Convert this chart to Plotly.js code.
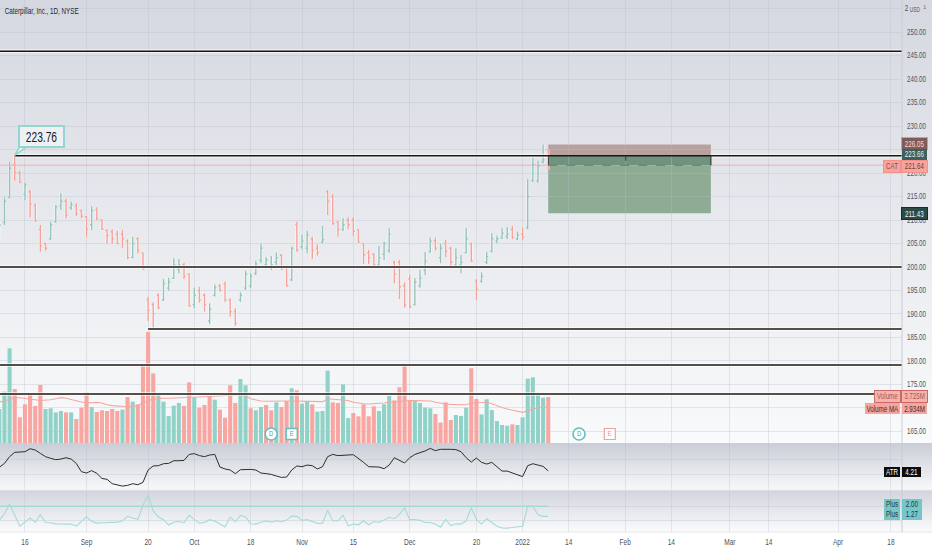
<!DOCTYPE html>
<html><head><meta charset="utf-8">
<script src="https://cdn.plot.ly/plotly-3.0.1.min.js"></script>
<style>
html,body{margin:0;padding:0;width:932px;height:550px;overflow:hidden;
background:linear-gradient(to bottom,#d5d8e0 0px,#f9fafb 443px,#cacdd7 443px,#f8f8fa 489px,#ececf0 490px,#d2d5dd 491px,#fafafb 531px,#ffffff 532px,#ffffff 550px);}
#chart{width:932px;height:550px;}
</style></head><body><div id="chart"></div>
<script>
const barIndex=[-5,-4,-3,-2,-1,0,1,2,3,4,5,6,7,8,9,10,11,12,13,14,15,16,17,18,19,20,21,22,23,24,25,26,27,28,29,30,31,32,33,34,35,36,37,38,39,40,41,42,43,44,45,46,47,48,49,50,51,52,53,54,55,56,57,58,59,60,61,62,63,64,65,66,67,68,69,70,71,72,73,74,75,76,77,78,79,80,81,82,83,84,85,86,87,88,89,90,91,92,93,94,95,96,97,98,99,100,101,102];
const opens=[206.5,209.5,214.8,221.8,220,215.5,216,213,208,205,206,209.6,213,214,212.6,213,212,210.7,209,212.2,210,207.8,207.5,207,207,205.5,202,206,203,193,192,194,193,195.5,197.6,199.5,200.5,198.5,192,195,194,188.5,194,196,196.4,193,190.5,193,195.5,196,198.6,201.5,200.5,200,201,202.5,200,197.3,209,204.3,204,206,204,205.3,216,215,209.5,208,210,210,207.9,205,203,202.7,200.5,202.7,203.5,201,201,196,197.5,192,196,199.3,203.3,205.6,202,205,204,200.5,200.5,203,205,197,197,201,203.3,205.5,206.2,206.5,208,206,207,208.4,218.4,218.3,222.3,225];
const highs=[210,214.83,222.41,223.76,220.5,217.95,216.39,213.55,208.94,205.18,209.65,213.2,215.68,214.54,213.9,213.55,212.27,210.85,212.98,212.7,210.15,208.02,208.02,207.73,207.88,205.89,206.46,206.32,203.12,193.69,192.49,194.4,197.45,197.73,201.85,201.7,200.9,198.66,195.6,195.82,194.4,192.27,196.3,196.4,196.9,193.34,191.2,194.6,199.2,198.66,201.35,205,202.06,202.34,203.1,202.77,200.2,204.33,209.65,206.8,207.73,206.46,204.83,208.73,216.39,215.54,209.86,210.36,210.57,210.57,208.09,205.04,203.62,202.91,204.47,205.39,208.23,201.35,201.5,196.74,198.3,197.6,199.37,203.2,206.25,206.25,204.9,205.75,204.33,203.97,202.56,208.23,205.18,197.45,198.87,203.27,207.17,206.67,208.23,208.51,208.73,207.52,208.44,218.66,223.27,222.63,226.05,225];
const lows=[206,208.94,214.61,218.37,217.8,214.26,210.57,209.65,203.27,203.48,205.75,209.44,212.13,210.36,212.13,210.85,210.36,206.46,207.88,210,207.88,204.9,204.9,204.9,204,201.63,201.85,202.91,199.37,188.52,186.95,191,192.77,194.97,197.45,198.66,197.45,191.56,191.2,192.41,190.5,187.8,193.7,194.76,192.6,189.44,187.5,192.6,195.1,195.46,198.3,200.8,199.72,199.37,200.43,199.37,195.8,197,203.27,203.76,202.91,201.7,202.4,205,211.07,208.94,206.46,207.66,208.09,206.67,205.18,200.64,200.64,199.93,200.2,201.5,203.05,196.53,193.2,191.35,191.2,191.8,195.6,198.3,203.05,203.48,200.8,202.06,200.2,199.86,198.66,202.91,201.14,192.98,196.67,200.64,203.12,205.04,205.96,205.96,205.89,205.75,205.75,208.02,218.1,217.95,222.06,220.64];
const closes=[208.9,214,221,220.1,218,217.5,213.4,209.8,204.5,204,209,212.8,214,211,213.3,211.3,210.8,208,212,210.3,208,206.7,206,205,206,202,205,203.5,199.5,190.8,190,191.3,196.5,196.8,200.5,200.5,198,191.7,194,193,192,191,195.6,195,193,190.5,188,194,198.5,198,200.6,204,201.5,200.5,202,199.5,196,204,203.6,205.5,206.8,203.5,203,205.8,214,209.3,208,209,209,207.6,205.3,202.6,202,200.5,202,205,207,198.5,195.8,191.9,191.5,196.8,197.6,201.2,205.5,204,204,203.3,201,202,201,206,201.3,195.2,198,202.2,206,206,207.2,207,206.3,206.8,206.3,215,221.8,221.5,222.8,221.64];
const volumes=[2.75,4.16,7.67,4.37,2.08,3.13,3.89,3.0,4.70,2.75,2.81,2.48,2.59,2.48,2.48,1.94,2.86,4.10,2.91,2.51,2.65,2.59,2.75,2.59,2.70,3.72,3.35,3.13,6.23,8.99,5.64,3.89,3.35,2.19,3.02,3.24,3.0,4.91,3.67,2.86,3.08,3.81,3.51,2.70,2.05,4.67,3.24,5.18,4.67,2.81,2.65,2.91,3.08,2.65,3.29,2.91,3.40,4.43,4.27,3.18,3.40,3.13,2.54,2.59,5.86,3.29,3.24,4.75,2.02,2.43,2.16,3.13,2.16,2.97,2.59,3.13,3.81,3.45,4.51,6.23,3.43,3.40,3.24,2.86,2.81,2.35,1.65,3.29,1.86,2.27,2.19,2.86,6.05,3.56,2.32,3.54,2.67,1.78,1.46,1.40,1.51,1.46,2.08,5.21,5.32,3.89,3.67,3.725];
const volumeSide=["uuu","dddddd","uuuu","d","u","ddd","u","ddddd","u","d","u","dddd","uuuuu","dd","u","ddd","u","dddd","uu","d","uu","dd","u","dd","u","d","uu","d","uuu","dd","uu","ddddd","uuu","dddd","uuuu","dddd","uuu","dd","uuuuuu","d","uuuuuu","d"].join("");
const volumeMA=[3.32,3.40,3.55,3.67,3.66,3.62,3.60,3.50,3.44,3.44,3.50,3.58,3.67,3.62,3.50,3.40,3.32,3.24,3.26,3.29,3.24,3.10,3.03,3.00,2.96,2.94,2.97,3.02,3.22,3.42,3.55,3.60,3.62,3.62,3.63,3.65,3.68,3.70,3.72,3.72,3.74,3.76,3.78,3.80,3.82,3.86,3.90,3.94,3.85,3.58,3.47,3.40,3.38,3.40,3.38,3.40,3.40,3.40,3.40,3.40,3.40,3.38,3.36,3.35,3.58,3.55,3.54,3.48,3.44,3.30,3.22,3.18,3.16,3.18,3.21,3.24,3.30,3.35,3.40,3.42,3.44,3.43,3.43,3.44,3.40,3.30,3.20,3.16,3.13,3.10,3.08,3.10,3.24,3.28,3.29,3.30,3.18,3.00,2.88,2.75,2.65,2.54,2.48,2.62,2.75,2.85,2.90,2.934];
const atr=[4.45,4.71,5.16,5.45,5.47,5.49,5.69,5.60,5.38,5.16,5.05,4.96,5.00,5.09,5.00,4.71,4.16,4.07,4.23,4.05,3.71,3.65,3.36,3.27,3.20,3.25,3.36,3.29,3.45,4.27,4.54,4.56,4.69,4.71,4.89,4.89,4.91,5.31,5.36,5.23,5.16,5.27,5.31,4.47,4.34,4.27,4.03,4.29,4.31,4.31,4.27,4.07,4.03,3.98,3.87,3.78,3.80,4.27,4.54,4.49,4.60,4.56,4.34,4.49,5.16,5.31,5.23,5.27,5.27,5.29,5.05,4.78,4.49,4.49,4.47,4.36,4.60,5.09,4.89,4.74,5.09,5.31,5.43,5.54,5.71,5.56,5.65,5.67,5.65,5.63,5.49,5.09,4.80,5.07,4.78,4.67,4.78,4.49,4.20,4.20,4.09,3.94,3.83,4.56,4.69,4.60,4.51,4.21];
const plusValues=[.98,1.46,2.17,1.34,.56,.85,1.15,.85,1.39,.83,.81,.73,.71,.73,.71,.56,.90,1.24,.90,.78,.81,.81,.85,.85,.95,1.27,1.15,1.05,2.07,2.80,1.66,1.22,1.03,.64,.85,.90,.81,1.34,1.05,.78,.83,1.03,.93,.71,.51,1.22,.88,1.34,1.22,.73,.71,.85,.93,.85,.95,.88,1.00,1.29,1.27,.98,1.03,.90,.76,.78,1.71,.95,.95,1.34,.59,.71,.66,.95,.66,.90,.83,1.00,1.20,1.10,1.41,1.88,1.03,1.03,.98,.83,.83,.71,.49,1.05,.61,.73,.71,.95,1.90,1.05,.71,1.10,.85,.56,.44,.42,.47,.51,.56,2.02,2.00,1.39,1.27,1.27];
const plusThreshold=barIndex.map(()=>2.00);
const levelPrices=[245.9,223.66,200,186.8,179.15,172.98];
const levelStarts=[-5,-2,-5,24,-5,-5];
const xEnd=171;
const lastPrice=221.64, stopPrice=226.05, entryPrice=223.66, targetPrice=211.43;
const boxStart=102, boxEnd=133.7;
const xTickVals=[0,12,24,33,44,54,64,75,88,97,106,117,126,137.4,145,158.5,168.8];
const xTickText=["16","Sep","20","Oct","18","Nov","15","Dec","20","2022","14","Feb","14","Mar","14","Apr","18"];
const priceTicks=[165,170,175,180,185,190,195,200,205,210,215,220,225,230,235,240,245,250,255];
const priceTickText=["165.00","","175.00","180.00","185.00","190.00","195.00","200.00","205.00","210.00","215.00","220.00","","230.00","235.00","240.00","245.00","250.00",""];
const eventX=[48,52,108,114], eventY=[.73,.73,.73,.73], eventText=["D","E","D","E"];

const FONT='"Liberation Sans",Arial,sans-serif';
const RED='#f7a6a1',TEAL='#91d2c8',SAL='#f2a9a2',PLUS='#a5dbd6';
const W=902,H=532;
const traces=[];
traces.push({type:'bar',x:barIndex,y:volumes,xaxis:'x',yaxis:'y',marker:{color:barIndex.map((_,i)=>volumeSide[i]==='u'?TEAL:RED),line:{width:0}},hoverinfo:'skip'});
traces.push({type:'scatter',mode:'lines',x:barIndex,y:volumeMA,xaxis:'x',yaxis:'y',line:{color:SAL,width:1.1},hoverinfo:'skip'});
traces.push({type:'scatter',mode:'markers+text',x:eventX.slice(0,1).concat(eventX[2]),y:[eventY[0],eventY[2]],text:[eventText[0],eventText[2]],textposition:'middle center',textfont:{family:FONT,size:8,color:'#3aa6a6'},xaxis:'x',yaxis:'y',marker:{symbol:'circle',size:12,color:'#ffffff',line:{color:'#63c0bd',width:1.6}},hoverinfo:'skip'});
traces.push({type:'scatter',mode:'markers+text',x:[eventX[1]],y:[eventY[1]],text:[eventText[1]],textposition:'middle center',textfont:{family:FONT,size:8,color:'#3aa6a6'},xaxis:'x',yaxis:'y',marker:{symbol:'square',size:11,color:'#ffffff',line:{color:'#63c0bd',width:1.4}},hoverinfo:'skip'});
traces.push({type:'scatter',mode:'markers+text',x:[eventX[3]],y:[eventY[3]],text:[eventText[3]],textposition:'middle center',textfont:{family:FONT,size:8,color:'#e88f88'},xaxis:'x',yaxis:'y',marker:{symbol:'square',size:11,color:'#ffffff',line:{color:'#eda29c',width:1.2}},hoverinfo:'skip'});
traces.push({type:'scatter',mode:'lines',x:[-5,boxStart,null,boxEnd,xEnd],y:[lastPrice,lastPrice,null,lastPrice,lastPrice],xaxis:'x',yaxis:'y2',line:{color:'rgba(245,165,160,0.55)',width:1.5},hoverinfo:'skip'});
traces.push({type:'ohlc',x:barIndex,open:opens,high:highs,low:lows,close:closes,xaxis:'x',yaxis:'y2',tickwidth:0.3,increasing:{line:{color:'rgba(255,255,255,0.55)',width:3}},decreasing:{line:{color:'rgba(255,255,255,0.55)',width:3}},hoverinfo:'skip'});
traces.push({type:'ohlc',x:barIndex,open:opens,high:highs,low:lows,close:closes,xaxis:'x',yaxis:'y2',tickwidth:0.3,increasing:{line:{color:'#93c4b8',width:1.4}},decreasing:{line:{color:'#f8a199',width:1.4}},hoverinfo:'skip'});
levelPrices.forEach((p,i)=>{
  const inBox=p===entryPrice;
  traces.push({type:'scatter',mode:'lines',x:inBox?[levelStarts[i],boxStart,null,boxEnd,xEnd]:[levelStarts[i],xEnd],y:inBox?[p,p,null,p,p]:[p,p],xaxis:'x',yaxis:'y2',line:{color:'rgba(255,255,255,0.6)',width:4},hoverinfo:'skip'});
});
levelPrices.forEach((p,i)=>traces.push({type:'scatter',mode:'lines',x:[levelStarts[i],xEnd],y:[p,p],xaxis:'x',yaxis:'y2',line:{color:'#1d1412',width:1.6},hoverinfo:'skip'}));
traces.push({type:'scatter',mode:'lines',x:barIndex,y:atr,xaxis:'x',yaxis:'y3',line:{color:'#2b2f2c',width:1},hoverinfo:'skip'});
traces.push({type:'scatter',mode:'lines',x:barIndex,y:plusThreshold,xaxis:'x',yaxis:'y4',line:{color:'#a3dad5',width:1.5},hoverinfo:'skip'});
traces.push({type:'scatter',mode:'lines',x:barIndex,y:plusValues,xaxis:'x',yaxis:'y4',line:{color:PLUS,width:1.1},hoverinfo:'skip'});

function box(l,r,t,b,text,bg,fg,border,size){
  return {xref:'paper',yref:'paper',x:(l+r)/2/W,y:1-(t+b)/2/H,xanchor:'center',yanchor:'middle',width:r-l,height:b-t,text:text,showarrow:false,align:'center',valign:'middle',bgcolor:bg,bordercolor:border||bg,borderwidth:border?1:0,borderpad:0,font:{family:FONT,size:size||8.5,color:fg}};
}
function free(px,py,text,size,color){
  return {xref:'paper',yref:'paper',x:px/W,y:1-py/H,xanchor:'center',yanchor:'middle',text:text,showarrow:false,font:{family:FONT,size:size,color:color}};
}
const annotations=[
 free(42,11,'Caterpillar, Inc., 1D, NYSE',8.6,'#23262f'),
 free(906.5,8,'2',8.5,'#50535e'),
 free(915,9.5,'USD',6.5,'#50535e'),
 free(925,7,'1',6,'#50535e'),
 {xref:'paper',yref:'paper',x:41.5/W,y:1-136/H,xanchor:'center',yanchor:'middle',width:43,height:19,text:'223.76',showarrow:false,bgcolor:'#eef1f4',bordercolor:'#93d5d0',borderwidth:2,borderpad:0,font:{family:FONT,size:14,color:'#17181c'}},
 box(902,927,138,149,'226.05','#7f5c5c','#ffd5d2','#ef8f89'),
 box(902,927,149.5,160,'223.66','#3f5f5c','#e6eeee'),
 box(884,900,161,171.5,'CAT','#f6a49e','#8a4a46','#f29089'),
 box(902,927,161,171.5,'221.64','#f6a49e','#7a3b38','#f29089'),
 box(902,927,208,219,'211.43','#2c4a46','#f2f6f5','#1c2b29'),
 box(875,900,391,401.5,'Volume','#f6b3ae','#a55a55','#c96a64'),
 box(902,927,391,401.5,'3.725M','#f6b3ae','#a55a55','#c96a64'),
 box(865,900,403,414,'Volume MA','#f6a49e','#3c3030'),
 box(902,927,403,414,'2.934M','#f6a49e','#3c3030'),
 box(884,900,467,477,'ATR','#0c0c0c','#ffffff'),
 box(902,921,467,477,'4.21','#0c0c0c','#ffffff'),
 box(884,900,499,509.5,'Plus','#74c6c8','#25393a'),
 box(902,922,499,509.5,'2.00','#74c6c8','#25393a'),
 box(884,900,509.5,520,'Plus','#74c6c8','#25393a'),
 box(902,922,509.5,520,'1.27','#74c6c8','#25393a')
];
const shapes=[
 {type:'rect',layer:'below',xref:'x',yref:'y2',x0:boxStart,x1:boxEnd,y0:entryPrice,y1:stopPrice,fillcolor:'#b8a09f',line:{width:0}},
 {type:'rect',layer:'below',xref:'x',yref:'y2',x0:boxStart,x1:boxEnd,y0:lastPrice,y1:entryPrice,fillcolor:'#6f937f',line:{width:0}},
 {type:'rect',layer:'below',xref:'x',yref:'y2',x0:boxStart,x1:boxEnd,y0:targetPrice,y1:lastPrice,fillcolor:'#8eab93',line:{width:0}},
 {type:'line',xref:'x',yref:'y2',x0:boxStart+.1,x1:boxStart+.1,y0:lastPrice,y1:entryPrice,line:{color:'#2d3b36',width:1.2}},
 {type:'line',xref:'x',yref:'y2',x0:boxEnd,x1:boxEnd,y0:lastPrice,y1:entryPrice,line:{color:'#2d3b36',width:1.2}},
 {type:'line',xref:'x',yref:'y2',x0:117.1,x1:117.1,y0:222.6,y1:223.66,line:{color:'#2d3b36',width:1}},
 {type:'line',xref:'x',yref:'y2',x0:boxStart,x1:boxEnd,y0:lastPrice,y1:lastPrice,line:{color:'#8a6a5c',width:1,dash:'dash'}},
 {type:'path',xref:'x',yref:'y2',path:'M -2 223.76 L -1.1 225.5 L 0.2 225.5 Z',fillcolor:'#eef1f4',line:{color:'#93d5d0',width:1.5}},
 {type:'line',xref:'paper',yref:'paper',x0:1,x1:1,y0:0,y1:1,line:{color:'#c9ccd4',width:1}},
 {type:'line',xref:'paper',yref:'paper',x0:0,x1:1.034,y0:0,y1:0,line:{color:'#e3e5ea',width:1}}
];
const GRID='rgba(186,191,203,0.34)';
const layout={
 width:932,height:550,margin:{l:0,r:30,t:0,b:18,pad:0},
 paper_bgcolor:'rgba(0,0,0,0)',plot_bgcolor:'rgba(0,0,0,0)',showlegend:false,bargap:0.2,hovermode:false,
 xaxis:{domain:[0,1],range:[-4.87,170.96],anchor:'y4',rangeslider:{visible:false},tickmode:'array',tickvals:xTickVals,ticktext:xTickText,showgrid:true,gridcolor:GRID,gridwidth:1,zeroline:false,showline:false,ticks:'',tickangle:0,ticklabelstandoff:3,tickfont:{family:FONT,size:9,color:'#4f525c'}},
 yaxis:{domain:[89/532,1],range:[0,35.87],visible:false,showgrid:false,zeroline:false,fixedrange:true},
 yaxis2:{domain:[89/532,1],overlaying:'y',anchor:'x',side:'right',range:[162.55,256.81],tickmode:'array',tickvals:priceTicks,ticktext:priceTickText,showgrid:true,gridcolor:GRID,zeroline:false,showline:false,ticks:'',ticklabelstandoff:4,tickfont:{family:FONT,size:8.5,color:'#50535e'}},
 yaxis3:{domain:[42/532,89/532],anchor:'x',range:[2.94,6.07],tickmode:'array',tickvals:[4,5],showticklabels:false,showgrid:true,gridcolor:GRID,zeroline:false,ticks:''},
 yaxis4:{domain:[0,41/532],anchor:'x',range:[0.14,3.1],tickmode:'array',tickvals:[1,2],showticklabels:false,showgrid:true,gridcolor:GRID,zeroline:false,ticks:''},
 annotations:annotations,shapes:shapes
};
const CONDENSE=0.73;
Plotly.newPlot('chart',traces,layout,{displayModeBar:false,staticPlot:true}).then(()=>{
  document.querySelectorAll('#chart svg text').forEach(t=>{
    const len=t.getComputedTextLength();
    if(len>0){t.setAttribute('textLength',(len*CONDENSE).toFixed(2));t.setAttribute('lengthAdjust','spacingAndGlyphs');}
  });
});
</script></body></html>
